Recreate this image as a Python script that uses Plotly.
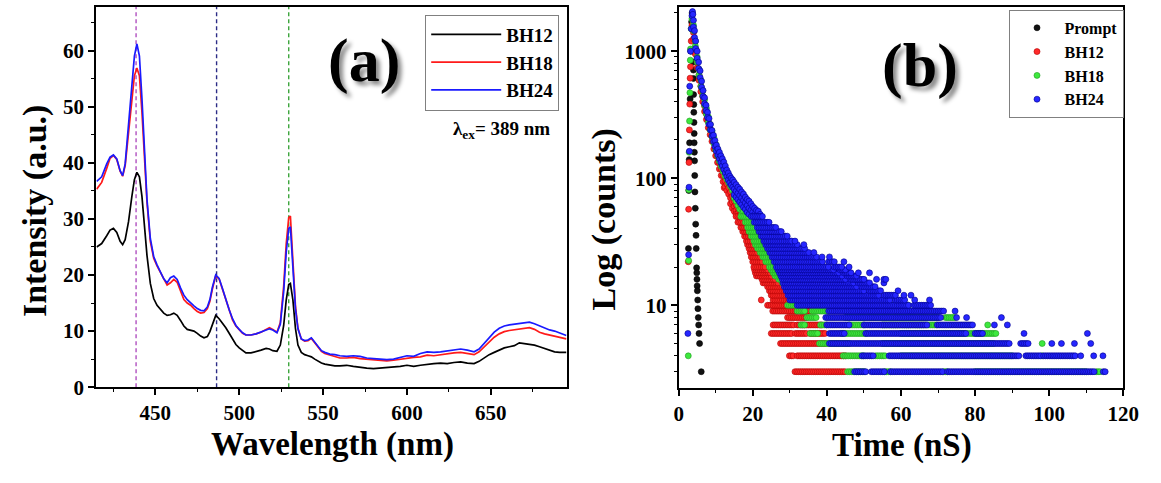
import plotly.graph_objects as go

# ---------------- (a) photoluminescence spectra ----------------
wavelength = [415, 418, 421, 423, 425, 427, 429, 430.5, 432, 434, 436, 437.5, 439, 440.5,
              442, 443.5, 445, 447, 449, 451, 453, 455, 457, 459, 461, 463, 465, 467, 469,
              471, 473, 475, 477, 479, 481, 482.5, 484, 486, 488, 490, 492, 494, 496, 498,
              500, 502, 504, 507, 510, 513, 516, 518, 520, 522.5, 524.5, 526.5, 528, 529.5,
              530.5, 532, 533.5, 535, 537, 539, 541, 543, 545, 547, 549, 551, 554, 557, 560,
              564, 568, 572, 576, 580, 584, 588, 592, 596, 600, 604, 608, 612, 616, 620, 624,
              628, 632, 636, 640, 643, 646, 649, 652, 655, 658, 661, 664, 667, 670, 673, 676,
              679, 682, 685, 688, 691, 695]

pl_bh12 = [25.0, 25.6, 27.0, 28.0, 28.3, 27.6, 26.0, 25.4, 26.3, 29.5, 34.0, 37.0, 38.3, 37.5,
           34.0, 29.0, 23.5, 18.5, 15.8, 14.6, 13.8, 13.2, 12.8, 12.9, 13.2, 12.8, 11.9, 10.9, 10.3,
           10.1, 10.0, 9.6, 9.1, 8.8, 9.0, 9.9, 11.3, 12.8, 12.2, 11.5, 10.6, 9.6, 8.6, 7.6,
           7.0, 6.5, 6.1, 6.1, 6.3, 6.6, 6.9, 6.8, 6.5, 6.4, 7.5, 11.0, 15.5, 18.3,
           18.5, 15.5, 10.5, 7.5, 6.2, 5.8, 5.6, 5.4, 5.0, 4.6, 4.3, 4.1, 3.9, 3.8, 3.8,
           3.9, 3.7, 3.5, 3.4, 3.3, 3.4, 3.4, 3.5, 3.7, 3.9, 3.7, 3.9, 4.1, 4.2, 4.3, 4.2,
           4.4, 4.5, 4.3, 4.2, 4.6, 5.2, 5.8, 6.2, 6.6, 7.0, 7.2, 7.4, 7.9, 7.8, 7.7, 7.5,
           7.2, 6.9, 6.5, 6.3, 6.2, 6.2]

pl_bh18 = [35.3, 36.5, 39.0, 40.8, 41.3, 40.6, 38.5, 37.6, 39.5, 45.0, 51.5, 55.5, 56.9, 55.5,
           49.0, 41.0, 33.0, 26.0, 23.0, 21.6, 20.4, 19.2, 18.2, 18.6, 19.2, 18.7, 17.0, 15.6, 15.0,
           14.6, 14.0, 13.5, 13.2, 13.3, 14.0, 15.3, 17.5, 19.9, 19.3, 17.5, 15.4, 13.5, 12.0, 10.9,
           10.2, 9.6, 9.3, 9.3, 9.5, 9.8, 10.3, 10.6, 10.3, 9.8, 11.5, 18.0, 25.5, 30.2,
           30.5, 22.5, 14.5, 10.5, 8.6, 8.2, 8.3, 8.7, 8.0, 7.1, 6.4, 6.0, 5.7, 5.5, 5.2,
           5.2, 5.3, 5.1, 5.0, 4.9, 4.8, 4.7, 4.8, 5.0, 5.2, 5.3, 5.4, 5.7, 5.6, 5.8, 5.9,
           6.1, 6.2, 6.0, 5.8, 6.3, 7.2, 8.1, 8.9, 9.5, 9.9, 10.1, 10.2, 10.4, 10.5, 10.6, 10.3,
           9.8, 9.5, 9.3, 9.0, 8.8, 8.6]

pl_bh24 = [36.7, 37.5, 39.8, 41.0, 41.4, 40.7, 38.6, 37.7, 39.8, 46.5, 54.0, 59.0, 61.2, 59.0,
           51.5, 42.5, 33.5, 26.5, 23.3, 21.8, 20.6, 19.3, 18.6, 19.5, 19.8, 19.2, 17.7, 16.4, 15.6,
           15.0, 14.5, 14.0, 13.7, 13.6, 14.3, 15.6, 17.8, 20.0, 19.4, 17.6, 15.6, 13.8, 12.2, 11.0,
           10.3, 9.7, 9.3, 9.3, 9.5, 9.8, 10.2, 10.4, 10.2, 9.7, 11.2, 17.0, 24.0, 28.3,
           28.6, 21.5, 14.0, 10.4, 8.6, 8.3, 8.4, 8.8, 8.1, 7.2, 6.5, 6.2, 5.9, 5.8, 5.6,
           5.5, 5.6, 5.5, 5.2, 5.1, 5.0, 4.9, 5.0, 5.3, 5.6, 5.5, 6.0, 6.3, 6.2, 6.3, 6.5,
           6.7, 6.8, 6.6, 6.3, 6.8, 7.8, 8.8, 9.8, 10.5, 10.9, 11.1, 11.2, 11.3, 11.5, 11.6, 11.3,
           10.9, 10.5, 10.2, 10.0, 9.6, 9.2]

peak_marks = [438.5, 486.5, 529.5]
peak_colors = ["#b050c0", "#2c2c86", "#3ca53c"]

# ---------------- (b) time-resolved decay ----------------
CHANNEL_NS = 0.5

prompt_t = [2.65, 2.75, 2.85, 2.95, 3.1, 3.3, 3.5, 3.65, 3.85, 3.9, 3.95, 4.0, 4.0, 4.05,
            4.1, 4.1, 4.15, 4.2, 4.2, 4.25, 4.3, 4.35, 4.4, 4.5, 4.6, 4.7, 4.75, 4.85, 4.9,
            4.95, 5.0, 5.05, 5.15, 5.2, 5.3, 5.4, 5.5, 5.65, 6.1]
prompt_c = [28, 80, 140, 190, 420, 1000, 1700, 2000, 1500, 1000, 820, 710, 610, 455,
            380, 330, 275, 225, 190, 160, 137, 105, 78, 58, 43.5, 35.5, 28, 19.7, 18,
            16, 14.2, 13, 11, 9.4, 8, 7, 6, 5, 3]

# rise and fast part of each decay: (time, [counts])
bh12_head = [(2.6, [22]), (2.7, [57]), (2.8, [133]), (2.9, [240]), (3.0, [383]), (3.1, [613]),
             (3.2, [754]), (3.4, [1200]), (3.6, [1600]), (3.8, [1550]), (4.0, [1400, 1250]),
             (4.5, [1050, 950]), (5.0, [820, 740]), (5.5, [650, 590]), (6.0, [530, 480]),
             (6.5, [440, 400]), (7.0, [370, 335]), (7.5, [320, 290]), (8.0, [280, 250]),
             (8.5, [245, 220]), (9.0, [215, 195]), (9.5, [190, 170]), (10.0, [168, 150]),
             (10.5, [148, 133]), (11.0, [132, 118]), (11.5, [118, 105]), (12.0, [105, 94]),
             (12.3, [84]), (12.5, [95, 86]), (13.0, [90, 80]), (13.5, [84, 75]),
             (14.0, [78, 70, 63]), (14.5, [72, 65, 58]), (15.0, [66, 60, 55]),
             (15.5, [62, 56, 52]), (16.0, [58, 53]), (16.5, [55, 51]), (17.0, [52])]

bh18_head = [(2.6, [4]), (2.7, [22.5]), (2.75, [81]), (2.85, [160]), (2.95, [282]), (3.05, [471]),
             (3.15, [850]), (3.2, [1040]), (3.4, [1500]), (3.6, [1800]), (3.8, [1750]),
             (4.0, [1600, 1450]), (4.5, [1200, 1100]), (5.0, [900, 820]), (5.5, [720, 650]),
             (6.0, [590, 530]), (6.5, [490, 445]), (7.0, [415, 375]), (7.5, [355, 320]),
             (8.0, [305, 275]), (8.5, [265, 240]), (9.0, [235, 212]), (9.5, [208, 188]),
             (10.0, [185, 167]), (10.5, [168, 150]), (11.0, [152, 136]), (11.5, [138, 124]),
             (12.0, [126, 113]), (12.5, [116, 104]), (13.0, [110, 98]), (13.5, [102, 92]),
             (14.0, [96, 86]), (14.5, [90, 80]), (15.0, [85, 76, 70]), (15.5, [80, 72, 66]),
             (16.0, [75, 68, 61]), (16.5, [70, 63, 57]), (17.0, [65, 58, 52]), (17.5, [61, 55]),
             (18.0, [58, 52]), (18.5, [54])]

bh24_head = [(2.5, [6]), (2.7, [25]), (2.8, [85]), (2.9, [163]), (3.0, [530]), (3.2, [1000]),
             (3.4, [1500]), (3.6, [1900]), (3.75, [2050]), (3.85, [1950]), (4.0, [1750, 1550]),
             (4.3, [1450, 1280]), (4.6, [1200, 1050]), (5.0, [1000, 880]), (5.4, [820, 730]),
             (5.8, [700, 620]), (6.2, [580, 520]), (6.6, [490, 440]), (7.0, [430, 385]),
             (7.4, [375, 340]), (7.8, [330, 300]), (8.2, [295, 265]), (8.6, [265, 240]),
             (9.0, [238, 215]), (9.4, [218, 195]), (9.8, [198, 178]), (10.2, [182, 163]),
             (10.6, [170, 152]), (11.0, [160, 142]), (11.4, [150, 133]), (11.8, [142, 125]),
             (12.2, [134, 117]), (12.6, [125, 110]), (13.0, [116, 103]), (13.4, [110, 97]),
             (13.8, [104, 92]), (14.2, [100, 88]), (14.6, [97, 85]), (15.0, [93, 82, 74]),
             (15.5, [89, 79, 71]), (16.0, [85, 76, 68]), (16.5, [82, 73, 65]),
             (17.0, [78, 70, 62]), (17.5, [75, 67, 59]), (18.0, [71, 64, 57]),
             (18.5, [68, 61, 54]), (19.0, [66, 58, 52]), (19.5, [63, 56]), (20.0, [60, 54]),
             (20.5, [58, 52]), (21.0, [56]), (21.5, [55]), (22.0, [52])]

# slow tail: count level -> occupied time spans (ns)
bh12_rows = {
    3: [(31.4, 45.1)], 4: [(29.9, 31.0), (32.0, 45.1)], 5: [(27.5, 39.7)],
    6: [(25.0, 30.5), (31.5, 34.5), (35.5, 39.5)], 7: [(25.5, 31.0), (32.0, 38.5)],
    8: [(29.4, 34.5)], 9: [(25.4, 32.0), (33.0, 35.8)], 10: [(24.0, 29.4), (30.0, 34.8)],
    11: [(22.3, 22.3), (25.5, 30.0)], 12: [(25.0, 29.0)], 13: [(24.5, 28.5)],
    14: [(24.0, 28.0)], 15: [(22.8, 27.0)], 16: [(22.5, 26.0)], 17: [(21.0, 25.0)],
    18: [(20.7, 24.5)], 19: [(20.5, 24.0)], 20: [(20.3, 23.3)], 22: [(20.0, 22.7)],
    24: [(19.6, 22.0)], 26: [(19.3, 21.4)], 28: [(19.0, 21.0)], 30: [(18.6, 20.3)],
    32: [(18.3, 19.9)], 35: [(17.8, 19.3)], 38: [(17.3, 19.0)], 41: [(16.8, 18.1)],
    45: [(16.0, 17.6)], 50: [(15.5, 17.0)],
}

bh18_rows = {
    3: [(45.6, 50.0), (55.6, 57.0), (71.5, 72.4), (80.0, 110.0), (112.7, 113.5)],
    4: [(44.4, 50.0), (53.2, 55.9), (60.0, 90.0), (98.1, 98.1)],
    5: [(38.0, 46.0), (55.0, 85.0), (98.1, 98.1)],
    6: [(35.5, 37.3), (44.0, 50.5), (60.0, 78.0), (78.6, 85.7)],
    7: [(33.0, 34.0), (38.3, 40.0), (46.0, 50.0), (55.0, 67.0), (67.5, 69.5), (83.4, 83.4)],
    8: [(34.6, 37.3), (45.0, 70.0), (72.0, 74.6)],
    9: [(32.0, 34.0), (36.0, 40.5), (45.0, 66.0)],
    10: [(29.4, 32.0), (40.0, 60.0), (60.5, 62.0)],
    11: [(31.0, 46.0)], 12: [(30.5, 40.0)], 13: [(30.0, 38.0)], 14: [(29.0, 35.0)],
    15: [(28.0, 33.5)], 16: [(27.0, 32.0)], 17: [(26.0, 30.7)], 18: [(25.5, 30.0)],
    19: [(25.0, 29.0)], 20: [(24.5, 28.0)], 22: [(23.5, 27.0)], 24: [(22.7, 26.0)],
    26: [(22.0, 25.0)], 28: [(21.3, 24.3)], 30: [(20.7, 23.7)], 32: [(20.3, 23.0)],
    35: [(19.6, 22.1)], 38: [(19.0, 21.5)], 41: [(18.6, 20.8)], 45: [(18.0, 20.0)],
    50: [(16.8, 19.0)],
}

bh24_rows = {
    3: [(47.5, 50.5), (52.0, 55.4), (57.2, 71.3), (72.6, 112.2), (114.6, 115.2)],
    4: [(49.5, 52.3), (56.8, 92.0), (93.7, 97.8), (98.5, 106.8), (108.5, 108.5),
        (112.0, 112.0), (114.5, 114.5)],
    5: [(40.7, 89.2), (92.3, 94.5), (100.7, 100.7), (103.3, 103.3), (106.8, 106.8),
        (111.2, 111.2)],
    6: [(40.7, 44.6), (50.5, 77.7), (80.0, 82.0), (93.2, 93.2), (110.3, 110.3)],
    7: [(40.0, 46.0), (50.0, 67.1), (69.8, 79.5), (85.2, 85.2), (88.7, 88.7)],
    8: [(39.7, 70.6), (75.0, 75.0), (77.7, 77.7), (87.1, 87.1)],
    9: [(40.5, 71.5), (74.6, 74.6)],
    10: [(32.0, 62.0), (63.5, 68.0)],
    11: [(30.0, 57.0), (58.5, 61.0), (63.7, 63.7), (67.7, 67.7)],
    12: [(29.5, 54.0), (55.5, 58.4), (60.8, 60.8), (62.7, 62.7)],
    13: [(29.0, 50.0), (51.5, 54.4), (59.2, 59.2)],
    14: [(28.5, 48.0), (49.5, 53.0)],
    15: [(28.2, 47.0), (48.5, 51.5), (55.4, 55.4)],
    16: [(28.0, 45.0), (46.5, 50.0), (53.4, 53.4), (55.4, 56.0)],
    17: [(27.6, 44.0), (45.5, 48.0)],
    18: [(27.2, 43.0), (44.5, 46.5), (48.5, 48.5), (51.5, 51.5)],
    19: [(26.8, 42.0), (43.5, 45.0)],
    20: [(26.4, 40.5), (42.0, 44.0), (46.0, 46.0)],
    22: [(25.8, 39.0), (40.5, 42.0), (44.6, 44.6)],
    24: [(25.2, 37.0), (38.7, 38.7), (40.7, 40.7)],
    26: [(24.6, 35.0), (36.5, 36.5)],
    28: [(24.0, 33.8)],
    30: [(23.5, 32.0), (33.8, 33.8)],
    32: [(23.0, 30.5), (31.4, 31.4)],
    35: [(22.3, 29.3)], 38: [(21.7, 27.5)], 41: [(21.2, 26.0)], 45: [(20.4, 24.4)],
    50: [(19.6, 22.5)],
}


def decay_points(head, rows):
    """Flatten the head columns and the tail count-level spans into (t, counts)."""
    ts, cs = [], []
    for t, counts in head:
        for c in counts:
            ts.append(t)
            cs.append(c)
    for level, spans in rows.items():
        for t0, t1 in spans:
            n = int(round((t1 - t0) / CHANNEL_NS))
            for k in range(n + 1):
                ts.append(round(t0 + k * CHANNEL_NS, 3))
                cs.append(level)
    return ts, cs


SERIF = "Liberation Serif"
fig = go.Figure()

# ---- panel (a) ----
for name, ys, color in [("BH12", pl_bh12, "#000000"),
                        ("BH18", pl_bh18, "#ff1a1a"),
                        ("BH24", pl_bh24, "#1a1aff")]:
    fig.add_trace(go.Scatter(x=wavelength, y=ys, mode="lines", name=name,
                             line=dict(color=color, width=1.7),
                             xaxis="x", yaxis="y", legend="legend"))

for xm, col in zip(peak_marks, peak_colors):
    fig.add_shape(type="line", xref="x", yref="y domain", x0=xm, x1=xm, y0=0, y1=1,
                  line=dict(color=col, width=1.4, dash="4px,3px"), layer="below")

# ---- panel (b) ----
decay_series = [
    ("Prompt", prompt_t, prompt_c, "#111111", "#000000"),
    ("BH12",) + decay_points(bh12_head, bh12_rows) + ("#ff2a2a", "#b00000"),
    ("BH18",) + decay_points(bh18_head, bh18_rows) + ("#3ee83e", "#1f9a1f"),
    ("BH24",) + decay_points(bh24_head, bh24_rows) + ("#2626ff", "#00008a"),
]
for name, ts, cs, fill, edge in decay_series:
    fig.add_trace(go.Scatter(x=ts, y=cs, mode="markers", name=name,
                             marker=dict(size=6, color=fill, line=dict(color=edge, width=0.6)),
                             xaxis="x2", yaxis="y2", legend="legend2"))

axis_common = dict(showline=True, linecolor="black", linewidth=2, mirror=True,
                   ticks="outside", ticklen=6, tickwidth=1.5, tickcolor="black",
                   showgrid=False, zeroline=False,
                   tickfont=dict(family=SERIF, size=21, color="black", weight="bold"))

fig.update_layout(
    width=1161, height=483,
    margin=dict(l=0, r=0, t=0, b=0),
    paper_bgcolor="white", plot_bgcolor="white",
    xaxis=dict(domain=[0.0801, 0.4927], range=[414.8, 695.2], tickvals=[450, 500, 550, 600, 650],
               minor=dict(ticks="outside", ticklen=3, tickwidth=1.2, tickcolor="black", dtick=25,
                          tick0=425),
               anchor="y", **axis_common),
    yaxis=dict(domain=[0.178, 0.9855], range=[0, 67.8], tickvals=[0, 10, 20, 30, 40, 50, 60],
               minor=dict(ticks="outside", ticklen=3, tickwidth=1.2, tickcolor="black", dtick=5),
               anchor="x", **axis_common),
    xaxis2=dict(domain=[0.5909, 0.981], range=[0, 120], dtick=20,
                minor=dict(ticks="outside", ticklen=3, tickwidth=1.2, tickcolor="black", dtick=10),
                anchor="y2", **axis_common),
    yaxis2=dict(domain=[0.176, 0.9855], type="log", range=[0.348, 3.349],
                tickvals=[10, 100, 1000], ticktext=["10", "100", "1000"],
                minor=dict(ticks="outside", ticklen=3, tickwidth=1.2, tickcolor="black",
                           dtick="D1"),
                anchor="x2", **axis_common),
    legend=dict(x=0.3686, y=0.969, xanchor="left", yanchor="top",
                bgcolor="white", bordercolor="#808080", borderwidth=1,
                font=dict(family=SERIF, size=19, color="black", weight="bold"),
                itemwidth=70, tracegroupgap=0),
    legend2=dict(x=1022 / 1161, y=0.979, xanchor="left", yanchor="top",
                 bgcolor="white", bordercolor="#808080", borderwidth=1,
                 font=dict(family=SERIF, size=16, color="black", weight="bold"),
                 itemsizing="trace", itemwidth=45),
    showlegend=True,
)

titles = [
    ("Intensity (a.u.)", 30, 216, -90, 34),
    ("Wavelength (nm)", 334, 456, 0, 33),
    ("Log (counts)", 610, 225, -90, 34),
    ("Time (nS)", 914, 457, 0, 33),
]
for text, px, py, ang, fs in titles:
    fig.add_annotation(text=text, x=px / 1161, y=1 - py / 483, xref="paper", yref="paper",
                       showarrow=False, textangle=ang, xanchor="center", yanchor="middle",
                       font=dict(family=SERIF, size=fs, color="black", weight="bold"))

# panel letters with a soft drop shadow
for text, px, py in [("(a)", 366, 62), ("(b)", 932, 67)]:
    fig.add_annotation(text=text, x=px / 1161, y=1 - py / 483,
                       xref="paper", yref="paper", showarrow=False,
                       xanchor="center", yanchor="middle",
                       font=dict(family=SERIF, size=62, color="black", weight="bold",
                                 shadow="4px 4px 4px rgba(0,0,0,0.45)"))

fig.add_annotation(text="λ<sub>ex</sub>= 389 nm", x=557 / 1161, y=1 - 133 / 483,
                   xref="paper", yref="paper", showarrow=False, xanchor="right",
                   yanchor="middle",
                   font=dict(family=SERIF, size=19, color="black", weight="bold"))

fig.write_html("out.html")
